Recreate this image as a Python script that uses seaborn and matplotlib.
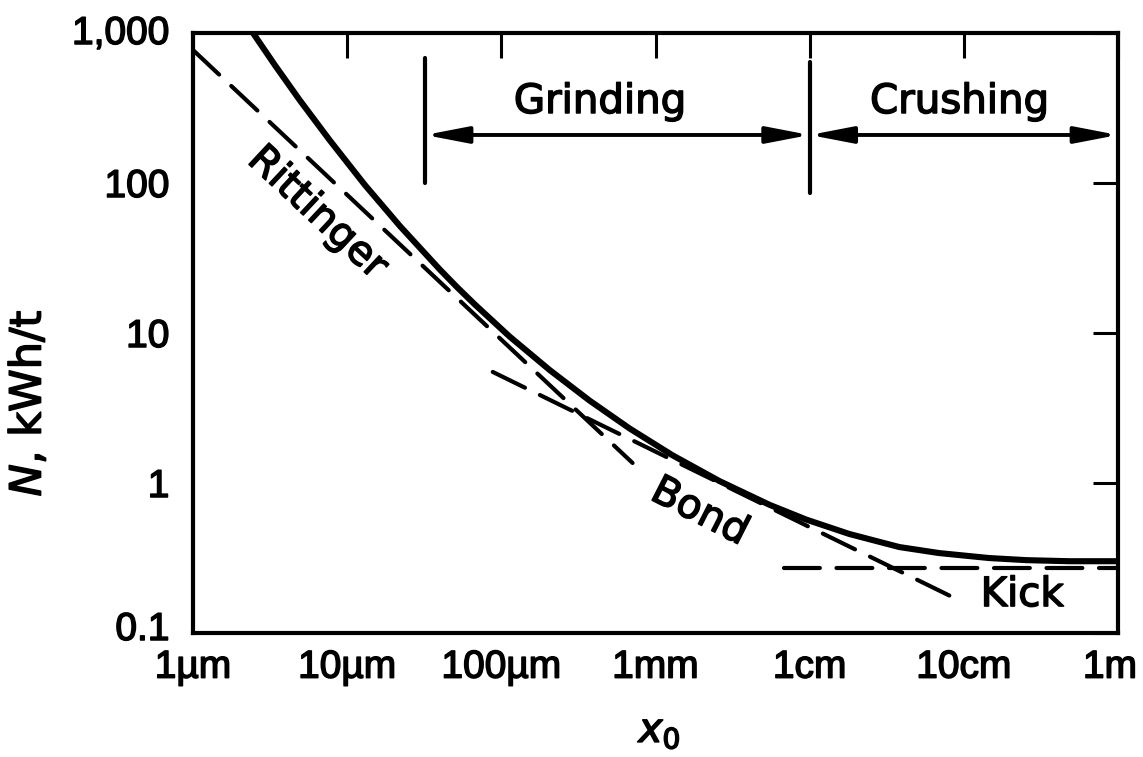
import matplotlib
matplotlib.use("Agg")
import matplotlib.pyplot as plt
import matplotlib.transforms as mtransforms
import matplotlib.patheffects as pe
import seaborn as sns
import pandas as pd

# Specific energy N (kWh/t) versus feed size x0 (m)
total_x = [2.45e-6, 3.40e-6, 4.93e-6, 7.73e-6, 1.30e-5, 2.20e-5, 3.99e-5, 5.14e-5,
           6.73e-5, 1.13e-4, 2.06e-4, 3.74e-4, 6.79e-4, 1.29e-3, 2.60e-3, 5.48e-3,
           9.52e-3, 1.81e-2, 3.82e-2, 6.93e-2, 0.146, 0.254, 0.483, 1.0]
total_n = [1000, 610, 356, 192, 97.3, 51.6, 26.5, 20.3,
           15.5, 9.48, 5.66, 3.54, 2.31, 1.53, 1.03, 0.716,
           0.570, 0.457, 0.374, 0.341, 0.316, 0.306, 0.301, 0.301]

rittinger_x = [1e-6, 7.1e-4]
rittinger_n = [770, 1.36]

bond_x = [8.8e-5, 8.4e-2]
bond_n = [5.5, 0.174]

kick_x = [6.8e-3, 1.0]
kick_n = [0.271, 0.271]

# Size ranges of the two comminution regimes
range_edges = [3.2e-5, 1e-2, 1.0]
range_names = ["Grinding", "Crushing"]

x_ticks = [1e-6, 1e-5, 1e-4, 1e-3, 1e-2, 1e-1, 1.0]
x_labels = ["1µm", "10µm", "100µm", "1mm", "1cm", "10cm", "1m"]
y_ticks = [0.1, 1, 10, 100, 1000]
y_labels = ["0.1", "1", "10", "100", "1,000"]

sns.set_theme(style="white")
plt.rcParams["font.family"] = ["DejaVu Sans"]
plt.rcParams["mathtext.fontset"] = "dejavusans"
for key in ["text.color", "axes.labelcolor", "xtick.color", "ytick.color", "axes.edgecolor"]:
    plt.rcParams[key] = "black"

ink = [pe.withStroke(linewidth=1.1, foreground="black")]

fig = plt.figure(figsize=(11.43, 7.57), dpi=100)
ax = fig.add_axes([193 / 1143, 1 - 633 / 757, 925 / 1143, 600 / 757])

dash = (0, (8.6, 4.0))
sns.lineplot(data=pd.DataFrame({"x": total_x, "N": total_n}), x="x", y="N", ax=ax,
             color="black", lw=4.4, solid_capstyle="round", solid_joinstyle="round", zorder=3)
sns.lineplot(data=pd.DataFrame({"x": rittinger_x, "N": rittinger_n}), x="x", y="N", ax=ax,
             color="black", lw=3.0, linestyle=dash, dash_capstyle="round", zorder=2)
sns.lineplot(data=pd.DataFrame({"x": bond_x, "N": bond_n}), x="x", y="N", ax=ax,
             color="black", lw=3.0, linestyle=dash, dash_capstyle="round", zorder=2)
sns.lineplot(data=pd.DataFrame({"x": kick_x, "N": kick_n}), x="x", y="N", ax=ax,
             color="black", lw=3.0, linestyle=dash, dash_capstyle="round", zorder=2)

ax.set_xscale("log")
ax.set_yscale("log")
ax.set_xlim(1e-6, 1.0)
ax.set_ylim(0.1, 1000)
ax.minorticks_off()

tick_font = dict(fontfamily=["Liberation Sans", "DejaVu Sans"], fontsize=28)
ax.set_xticks(x_ticks)
ax.set_xticklabels(x_labels, **tick_font)
ax.set_yticks(y_ticks)
ax.set_yticklabels(y_labels, **tick_font)
ax.tick_params(axis="both", which="major", direction="in", length=18, width=2.2,
               top=True, right=True, color="black")
ax.tick_params(axis="x", pad=12)
ax.tick_params(axis="y", pad=17)
for lab in ax.get_xticklabels() + ax.get_yticklabels():
    lab.set_path_effects(ink)

# nudge the end labels so they sit inside the figure like the printed scale
last_x = ax.get_xticklabels()[-1]
last_x.set_transform(last_x.get_transform()
                     + mtransforms.ScaledTranslation(-0.08, 0, fig.dpi_scale_trans))
low_y = ax.get_yticklabels()[0]
low_y.set_transform(low_y.get_transform()
                    + mtransforms.ScaledTranslation(0, 0.07, fig.dpi_scale_trans))
top_y = ax.get_yticklabels()[-1]
top_y.set_transform(top_y.get_transform()
                    + mtransforms.ScaledTranslation(0, 0.03, fig.dpi_scale_trans))

for sp in ax.spines.values():
    sp.set_linewidth(3.0)
    sp.set_color("black")

label_size = 29
ax.set_xlabel(r"$x_0$", fontsize=label_size, path_effects=ink)
ax.xaxis.set_label_coords(0.505, -0.13)
ax.set_ylabel(r"$N$, kWh/t", fontsize=31, path_effects=ink)
ax.yaxis.set_label_coords(-0.155, 0.383)

# Regime brackets with double-headed arrows
bar_tops = [680, 640]
bar_bottoms = [100, 86]
for xe, top, bot in zip(range_edges[:2], bar_tops, bar_bottoms):
    ax.plot([xe, xe], [bot, top], color="black", lw=3.0, solid_capstyle="round")
arrow_n = 209
for i in range(2):
    ax.annotate("", xy=(range_edges[i + 1], arrow_n), xytext=(range_edges[i], arrow_n),
                arrowprops=dict(arrowstyle="<|-|>,head_length=1.3,head_width=0.25",
                                mutation_scale=20, lw=2.8, color="black",
                                shrinkA=0, shrinkB=0))
ax.text(4.35e-4, 293, range_names[0], ha="center", va="baseline",
        fontsize=label_size, path_effects=ink)
ax.text(9.35e-2, 293, range_names[1], ha="center", va="baseline",
        fontsize=label_size, path_effects=ink)

# Model labels
ax.text(6.4e-6, 63, "Rittinger", rotation=-43, ha="center", va="center",
        rotation_mode="anchor", fontsize=label_size, path_effects=ink)
ax.text(1.93e-3, 0.64, "Bond", rotation=-27, ha="center", va="center",
        rotation_mode="anchor", fontsize=label_size, path_effects=ink)
ax.text(0.239, 0.179, "Kick", ha="center", va="center", fontsize=label_size,
        path_effects=ink)

fig.savefig("out.png", dpi=100, facecolor="white")
